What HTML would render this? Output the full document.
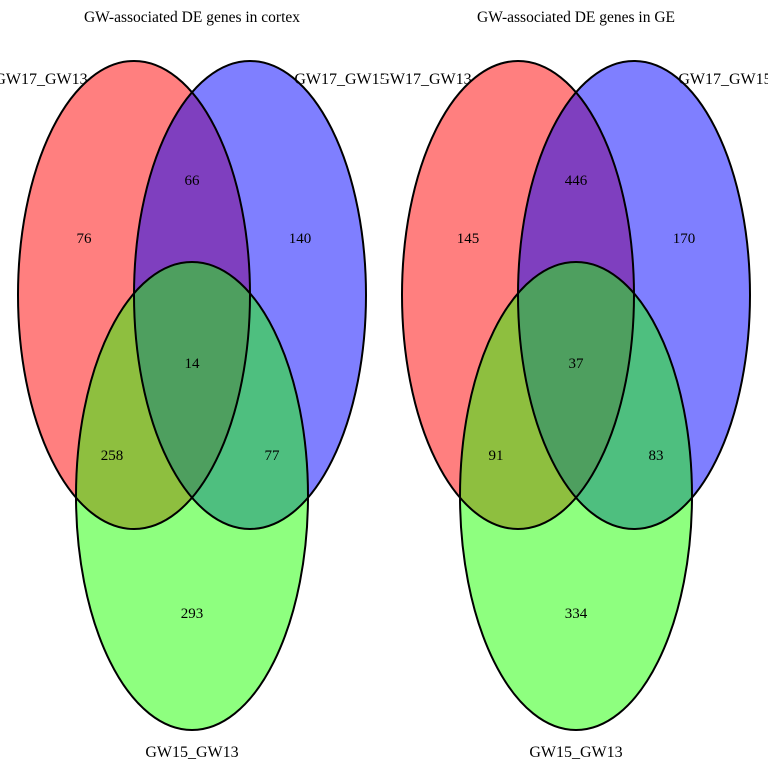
<!DOCTYPE html>
<html><head><meta charset="utf-8"><style>
html,body{margin:0;padding:0;background:#fff;}
svg{display:block;font-family:"Liberation Serif",serif;}
</style></head><body>
<svg id="chart" width="768" height="768" viewBox="0 0 768 768">
<defs><clipPath id="cp0"><rect x="0" y="0" width="384" height="768"/></clipPath><clipPath id="cp1"><rect x="384" y="0" width="384" height="768"/></clipPath></defs>
</svg>
<script>
const panelTitles = ["GW-associated DE genes in cortex", "GW-associated DE genes in GE"];
const setNames = ["GW17_GW13", "GW17_GW15", "GW15_GW13"];
const regionKeys = ["A", "AB", "B", "ABC", "AC", "BC", "C"];
const cortexCounts = [76, 66, 140, 14, 258, 77, 293];
const geCounts = [145, 446, 170, 37, 91, 83, 334];
const allCounts = [cortexCounts, geCounts];

const NS = "http://www.w3.org/2000/svg";
const svg = document.getElementById("chart");
function mk(tag, attrs, parent) {
  const e = document.createElementNS(NS, tag);
  for (const k in attrs) e.setAttribute(k, attrs[k]);
  (parent || svg).appendChild(e);
  return e;
}
const rx = 116, ry = 234;
const fills = ["rgb(255,0,0)", "rgb(0,0,255)", "rgb(30,255,0)"];
const regionPos = {A:[-108,-57], AB:[0,-115], B:[108,-57], ABC:[0,68], AC:[-80,160], BC:[80,160], C:[0,318]};
for (let p = 0; p < 2; p++) {
  const ox = p * 384;
  const g = mk("g", {"clip-path": "url(#cp" + p + ")"});
  
  
  const t = mk("text", {x: ox + 192, y: 22, "text-anchor": "middle", "font-size": 15.5}, g);
  t.textContent = panelTitles[p];
  
  
  const centers = [[ox + 134, 295], [ox + 250, 295], [ox + 192, 496]];
  for (let i = 0; i < 3; i++) {
    const e = mk("ellipse", {cx: centers[i][0], cy: centers[i][1], rx: rx, ry: ry, fill: fills[i], "fill-opacity": 0.5, stroke: "none"}, g);
    
    
  }
  for (let i = 0; i < 3; i++) {
    mk("ellipse", {cx: centers[i][0], cy: centers[i][1], rx: rx, ry: ry, fill: "none", stroke: "#000", "stroke-width": 2}, g);
  }
  const cx = ox + 192, cy = 295;
  regionKeys.forEach((k, j) => {
    const tx = mk("text", {x: cx + regionPos[k][0], y: cy + regionPos[k][1] + 5, "text-anchor": "middle", "font-size": 15}, g);
    tx.textContent = allCounts[p][j];
    
    
  });
  const labPos = [[ox + 41, 84], [ox + 341, 84], [ox + 192, 757]];
  for (let i = 0; i < 3; i++) {
    const l = mk("text", {x: labPos[i][0], y: labPos[i][1], "text-anchor": "middle", "font-size": 16, fill: "#000"}, g);
    l.textContent = setNames[i];
    
    
  }
}
</script>
</body></html>
